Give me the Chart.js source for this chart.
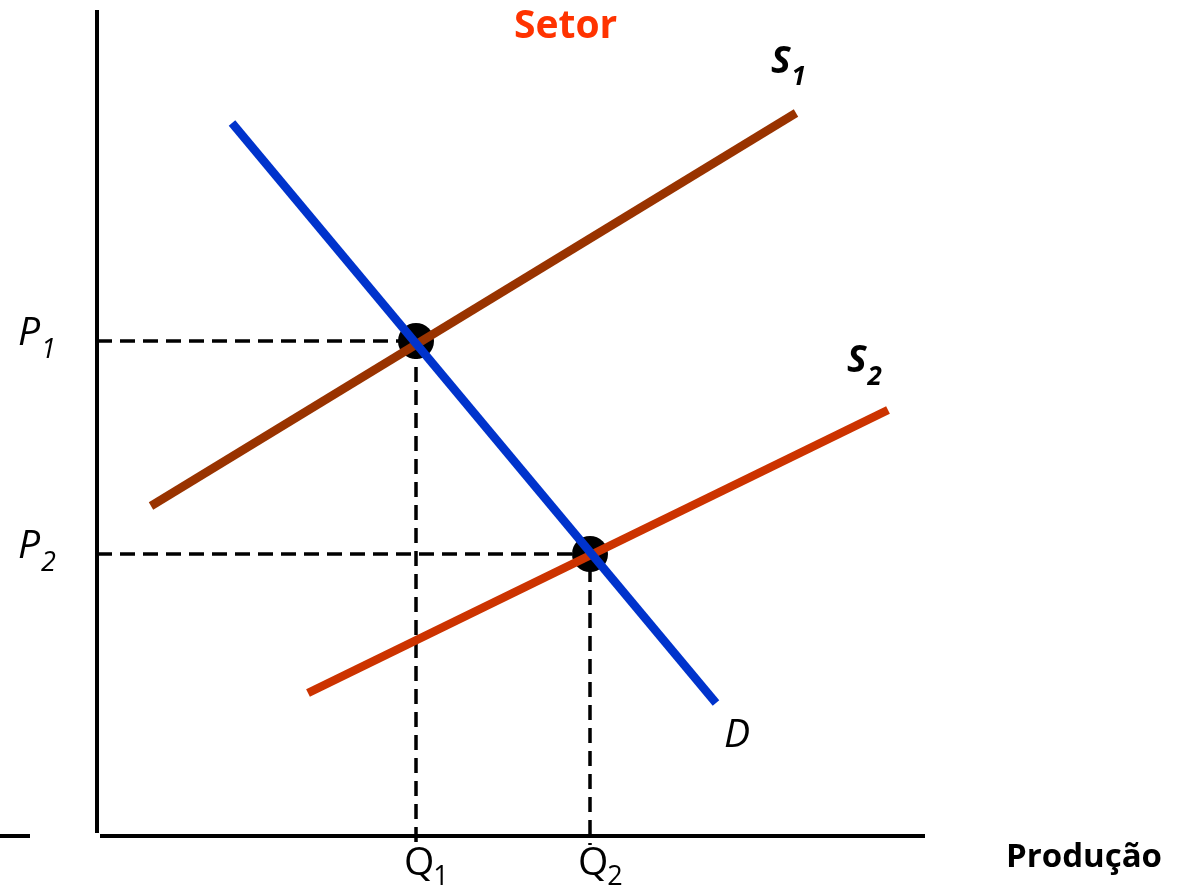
<!DOCTYPE html>
<html>
<head>
<meta charset="utf-8">
<script src="https://cdn.jsdelivr.net/npm/chart.js@4"></script>
<style>
  html, body { margin: 0; padding: 0; background: #fff; }
  #grafico { display: block; }
</style>
</head>
<body>
<canvas id="grafico" width="1179" height="889"></canvas>
<script>
// valores do esquema (quantidade x preço, origem no cruzamento dos eixos)
const demandaQ = [135, 619];
const demandaP = [713, 133];
const oferta1Q = [54, 699];
const oferta1P = [330, 723];
const oferta2Q = [211, 791];
const oferta2P = [143, 426];

// equilíbrios
const equilibrioQ = [319, 493];
const equilibrioP = [495, 282];

// rótulos
const rotulosPreco = ['P1', 'P2'];
const rotulosQtd = ['Q1', 'Q2'];
const rotulosCurvas = ['S1', 'S2', 'D'];

// tamanho dos eixos
const eixoQMax = 828;
const eixoPMax = 826;

function pontos(qs, ps) {
    return qs.map((q, i) => ({ x: q, y: ps[i] }));
}

const datasets = [];

// curvas por cima
datasets.push({ data: pontos(demandaQ, demandaP), borderColor: '#0033CC', borderWidth: 8.5, order: 1 });
datasets.push({ data: pontos(oferta1Q, oferta1P), borderColor: '#993300', borderWidth: 8.5, order: 2 });
datasets.push({ data: pontos(oferta2Q, oferta2P), borderColor: '#CC3300', borderWidth: 8.5, order: 3 });

// pontos de equilibrio (ficam por baixo das retas)
datasets.push({
    data: pontos(equilibrioQ, equilibrioP),
    showLine: false,
    pointRadius: 18,
    pointBackgroundColor: '#000',
    pointBorderWidth: 0,
    order: 4
});

// linhas tracejadas
equilibrioQ.forEach((q, i) => {
    const p = equilibrioP[i];
    datasets.push({
        data: [{ x: 0, y: p }, { x: q, y: p }, { x: q, y: -9 }],
        borderColor: '#000', borderWidth: 3.5, borderDash: [15, 8], order: 5
    });
});

// eixos
datasets.push({ data: [{ x: 0, y: 3 }, { x: 0, y: eixoPMax }], borderColor: '#000', borderWidth: 4, order: 6 });
datasets.push({ data: [{ x: 3, y: 0 }, { x: eixoQMax, y: 0 }], borderColor: '#000', borderWidth: 4, order: 6 });
datasets.push({ data: [{ x: -97, y: 0 }, { x: -67, y: 0 }], borderColor: '#000', borderWidth: 4, order: 6 });

datasets.forEach(d => {
    if (d.showLine === undefined) d.showLine = true;
    if (d.pointRadius === undefined) d.pointRadius = 0;
    d.borderCapStyle = 'butt';
    d.fill = false;
    d.tension = 0;
});

// desenha texto com indice
function comIndice(ctx, txt, x, y, fonte, fonteSub, dxSub, dySub, cor) {
    ctx.fillStyle = cor || '#000';
    ctx.font = fonte;
    ctx.fillText(txt[0], x, y);
    const w = ctx.measureText(txt[0]).width;
    ctx.font = fonteSub;
    ctx.fillText(txt.slice(1), x + w + dxSub, y + dySub);
}

const rotulos = {
    id: 'rotulos',
    afterDatasetsDraw(chart) {
        const ctx = chart.ctx;
        const sx = chart.scales.x, sy = chart.scales.y;
        ctx.save();
        ctx.textBaseline = 'alphabetic';
        ctx.textAlign = 'left';

        // P1, P2
        rotulosPreco.forEach((r, i) => {
            const yp = sy.getPixelForValue(equilibrioP[i]);
            comIndice(ctx, r, 18, yp + 4, 'italic 39px "Open Sans"', 'italic 27px "Open Sans"', 1, 13);
        });

        // Q1, Q2
        rotulosQtd.forEach((r, i) => {
            const xp = sx.getPixelForValue(equilibrioQ[i]);
            comIndice(ctx, r, xp - 12, sy.getPixelForValue(0) + 39, '39px "Open Sans"', '27px "Open Sans"', -1, 10);
        });

        // S1, S2, D
        const fimS1x = sx.getPixelForValue(oferta1Q[1]), fimS1y = sy.getPixelForValue(oferta1P[1]);
        comIndice(ctx, rotulosCurvas[0], fimS1x - 25, fimS1y - 40, 'italic bold 37px "Open Sans"', 'italic bold 26px "Open Sans"', 1, 12);
        const fimS2x = sx.getPixelForValue(oferta2Q[1]), fimS2y = sy.getPixelForValue(oferta2P[1]);
        comIndice(ctx, rotulosCurvas[1], fimS2x - 41, fimS2y - 38, 'italic bold 37px "Open Sans"', 'italic bold 26px "Open Sans"', 1, 13);
        const fimDx = sx.getPixelForValue(demandaQ[1]), fimDy = sy.getPixelForValue(demandaP[1]);
        ctx.font = 'italic 39px "Open Sans"';
        ctx.fillStyle = '#000';
        ctx.fillText(rotulosCurvas[2], fimDx + 8, fimDy + 44);

        // titulo e eixo
        ctx.font = 'bold 39px "Open Sans"';
        ctx.fillStyle = '#FF3300';
        ctx.fillText('Setor', 514, 38);
        ctx.font = 'bold 33px "Open Sans"';
        ctx.fillStyle = '#000';
        ctx.fillText('Produção', 1006, 867);
        ctx.restore();
    }
};

new Chart(document.getElementById('grafico').getContext('2d'), {
    type: 'scatter',
    data: { datasets: datasets },
    options: {
        responsive: false,
        animation: false,
        layout: { padding: 0, autoPadding: false },
        plugins: { legend: { display: false }, tooltip: { enabled: false } },
        scales: {
            x: { type: 'linear', min: -97, max: 1082, display: false },
            y: { type: 'linear', min: -53, max: 836, display: false }
        }
    },
    plugins: [rotulos]
});
</script>
</body>
</html>
